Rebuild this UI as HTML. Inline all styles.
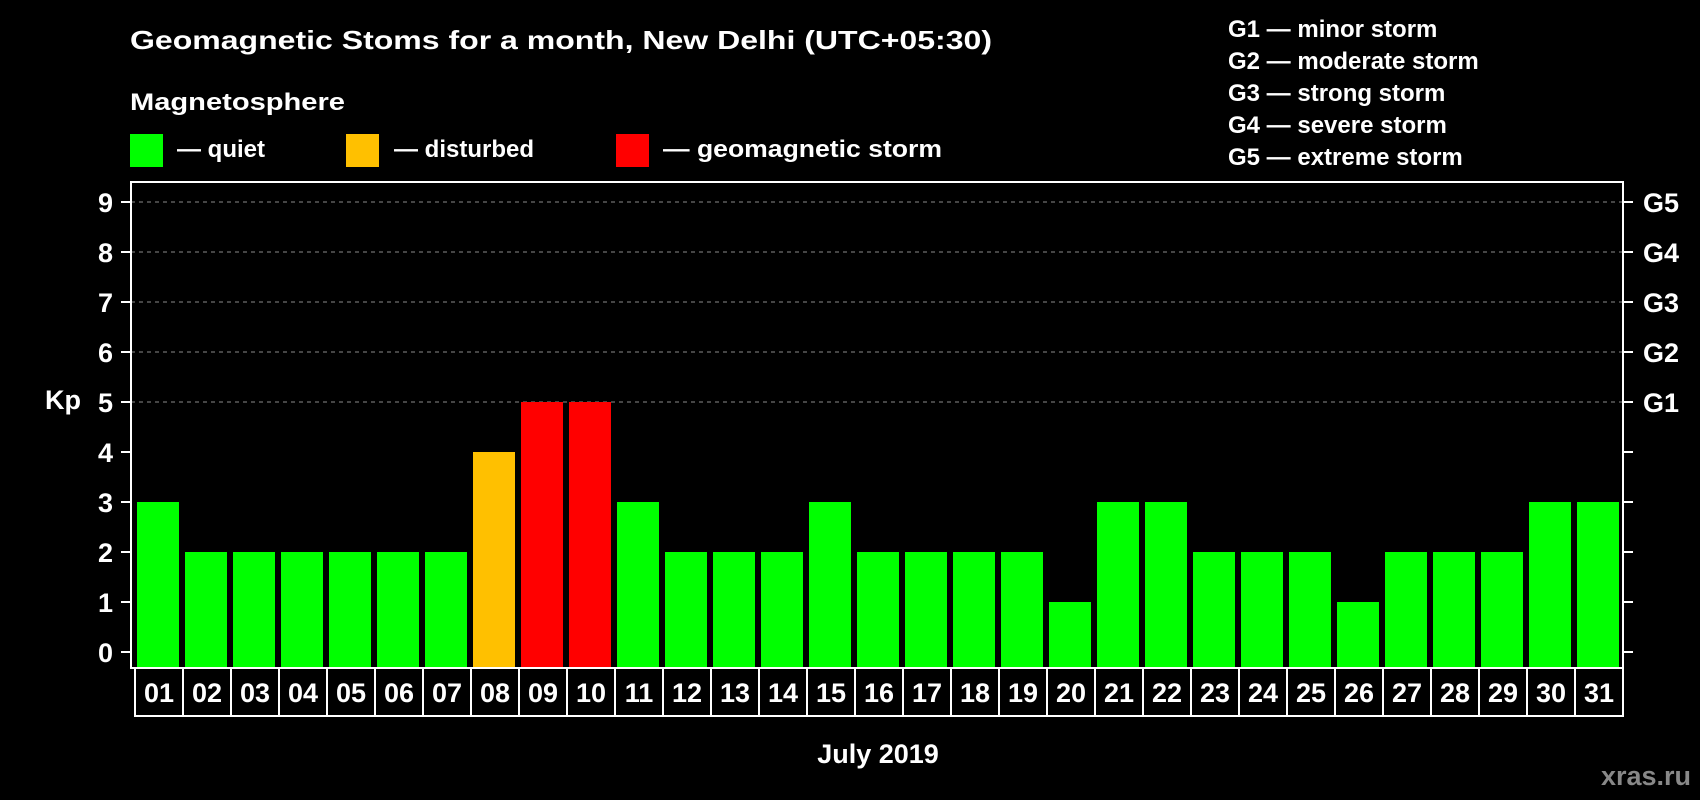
<!DOCTYPE html>
<html><head><meta charset="utf-8"><style>
html,body{margin:0;padding:0;background:#000;}
svg{display:block;font-family:"Liberation Sans",sans-serif;font-weight:bold;}
</style></head><body>
<svg id="c" width="1700" height="800" viewBox="0 0 1700 800">
<rect width="1700" height="800" fill="#000"/>
<text x="130" y="49" fill="#fff" font-size="26" textLength="862" lengthAdjust="spacingAndGlyphs">Geomagnetic Stoms for a month, New Delhi (UTC+05:30)</text>
<text x="130" y="110" fill="#fff" font-size="24" textLength="215" lengthAdjust="spacingAndGlyphs">Magnetosphere</text>
<g>
<rect x="130" y="134" width="33" height="33" fill="#00ff00"/>
<text x="177" y="157" fill="#fff" font-size="24">— quiet</text></g>
<g>
<rect x="346" y="134" width="33" height="33" fill="#ffc000"/>
<text x="394" y="157" fill="#fff" font-size="24">— disturbed</text></g>
<g>
<rect x="616" y="134" width="33" height="33" fill="#ff0000"/>
<text x="663" y="157" fill="#fff" font-size="24" textLength="279" lengthAdjust="spacingAndGlyphs">— geomagnetic storm</text></g>
<g fill="#fff" font-size="24">
<text x="1228" y="37">G1 — minor storm</text>
<text x="1228" y="69">G2 — moderate storm</text>
<text x="1228" y="101">G3 — strong storm</text>
<text x="1228" y="133">G4 — severe storm</text>
<text x="1228" y="165">G5 — extreme storm</text>
</g>
<text x="63" y="409" fill="#fff" font-size="27" text-anchor="middle">Kp</text>
<text x="878" y="763" fill="#fff" font-size="27" text-anchor="middle">July 2019</text>
<text x="1691" y="785" fill="#888" font-size="27" text-anchor="end">xras.ru</text>
<g id="grid"></g><g id="bars"></g><g id="axes"></g>
</svg>
<script>
const days = ["01","02","03","04","05","06","07","08","09","10","11","12","13","14","15","16","17","18","19","20","21","22","23","24","25","26","27","28","29","30","31"];
const kpValues = [3,2,2,2,2,2,2,4,5,5,3,2,2,2,3,2,2,2,2,1,3,3,2,2,2,1,2,2,2,3,3];
const yTicks = [0,1,2,3,4,5,6,7,8,9];
const gLevels = [5,6,7,8,9];
const gLabels = ["G1","G2","G3","G4","G5"];
const NS="http://www.w3.org/2000/svg";
const L=131,R=1623,T=182,B=668,Y0=652,U=50,P=48,BW=42;
const y=v=>Y0-v*U;
const xCell=i=>135+i*P;
const xBar=i=>137+i*P;
function mk(tag,a,parent){const e=document.createElementNS(NS,tag);for(const k in a)e.setAttribute(k,a[k]);parent.appendChild(e);return e;}
const grid=document.getElementById('grid'),bars=document.getElementById('bars'),axes=document.getElementById('axes');
gLevels.forEach(v=>{
 const g=mk('line',{x1:L,x2:R,y1:y(v),y2:y(v),stroke:'#8a8a8a','stroke-width':1,'stroke-dasharray':'4,4'},grid);
 
 
});
kpValues.forEach((v,i)=>{
 const c=v>=5?'#ff0000':(v>=4?'#ffc000':'#00ff00');
 const r=mk('rect',{x:xBar(i),y:y(v),width:BW,height:B-y(v),fill:c},bars);
 
 
});
const fr=mk('rect',{x:L,y:T,width:R-L,height:B-T,fill:'none',stroke:'#fff','stroke-width':2},axes);


yTicks.forEach(v=>{
 const t=mk('line',{x1:121,x2:L,y1:y(v),y2:y(v),stroke:'#fff','stroke-width':2},axes);
 
 
 const tx=mk('text',{x:113,y:y(v)+10,fill:'#fff','font-size':27,'text-anchor':'end'},axes);
 tx.textContent=v;
 
 
 const rt=mk('line',{x1:R,x2:R+10,y1:y(v),y2:y(v),stroke:'#fff','stroke-width':2},axes);
 
 
});
gLevels.forEach((v,i)=>{
 const tx=mk('text',{x:1643,y:y(v)+10,fill:'#fff','font-size':27},axes);
 tx.textContent=gLabels[i];
 
 
});
days.forEach((d,i)=>{
 const c=mk('rect',{x:xCell(i),y:B,width:P,height:716-B,fill:'none',stroke:'#fff','stroke-width':2},axes);
 
 
 const tx=mk('text',{x:xCell(i)+P/2,y:702,fill:'#fff','font-size':27,'text-anchor':'middle'},axes);
 tx.textContent=d;
 
 
});
</script>
</body></html>
